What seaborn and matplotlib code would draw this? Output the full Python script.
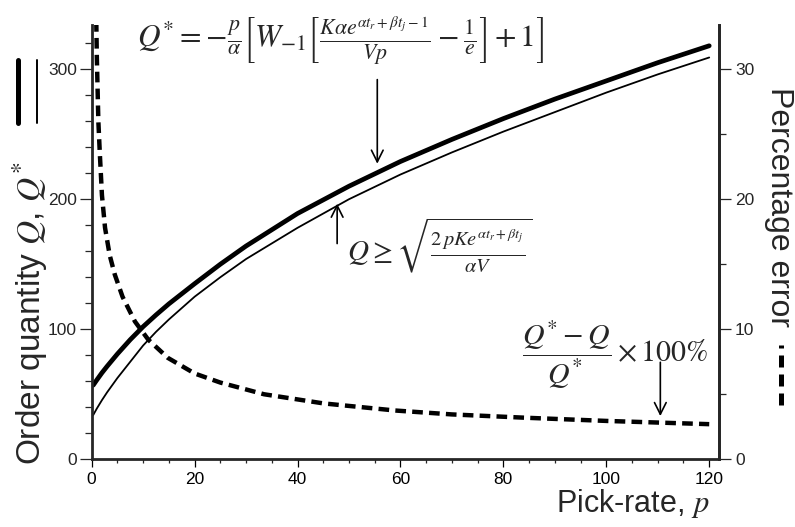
import matplotlib
matplotlib.use("Agg")
import matplotlib.pyplot as plt
import seaborn as sns
from matplotlib.lines import Line2D
from matplotlib.ticker import MultipleLocator

# values
P_CURVE = [0.3, 1, 2, 3, 5, 7.5, 10, 12.5, 15, 20, 25, 30, 40, 50, 60, 70, 80, 90, 100, 110, 120]
Q_STAR = [57, 61, 66.5, 71.5, 81, 92, 102, 111, 119.5, 135, 150, 164, 189, 210, 229, 246, 262, 277, 291, 305, 318]
Q_SQRT = [34, 39, 45.5, 51.5, 62.5, 75, 87.5, 98, 107.5, 125, 140, 154, 178, 200, 219, 236, 252, 267, 282, 296, 309]

P_ERR = [0.85, 1.0, 1.3, 1.6, 2.0, 2.6, 3.5, 4.5, 6, 8.4, 11, 14.8, 20, 25, 33.5, 45, 59, 70, 84, 100, 116, 120]
ERR_PCT = [35, 31, 26, 23.4, 20.3, 17.8, 15.7, 14.2, 12.5, 10.6, 9.2, 7.8, 6.6, 5.9, 5.0, 4.3, 3.75, 3.45, 3.2, 2.95, 2.75, 2.7]

X_TICKS = [0, 20, 40, 60, 80, 100, 120]
Y_TICKS = [0, 100, 200, 300]
Y2_TICKS = [0, 10, 20, 30]

sns.set_theme(style="ticks")
plt.rcParams["font.family"] = ["Liberation Sans", "DejaVu Sans"]
plt.rcParams["mathtext.fontset"] = "stix"

fig, ax = plt.subplots(figsize=(7.95, 5.27), dpi=100)
fig.subplots_adjust(left=0.1153, right=0.9044, bottom=0.1285, top=0.9526)
ax2 = ax.twinx()

sns.lineplot(x=P_CURVE, y=Q_STAR, ax=ax, color="black", linewidth=3.4)
sns.lineplot(x=P_CURVE, y=Q_SQRT, ax=ax, color="black", linewidth=1.3)
sns.lineplot(x=P_ERR, y=ERR_PCT, ax=ax2, color="black", linewidth=3.2)
ax2.lines[-1].set_dashes([2.4, 1.4])
ax2.lines[-1].set_dash_capstyle("butt")

ax.set_xlim(0, 121.9)
ax.set_ylim(0, 334)
ax2.set_ylim(0, 33.4)
ax.set_xticks(X_TICKS)
ax.set_yticks(Y_TICKS)
ax2.set_yticks(Y2_TICKS)
ax.xaxis.set_minor_locator(MultipleLocator(5))
ax.yaxis.set_minor_locator(MultipleLocator(20))
ax2.yaxis.set_minor_locator(MultipleLocator(5))
ax.set_xlabel("")
ax.set_ylabel("")
ax2.set_ylabel("")

for a in (ax, ax2):
    a.spines["top"].set_visible(False)
    for s in a.spines.values():
        s.set_linewidth(2.0)
ax2.spines["left"].set_visible(False)
ax2.spines["bottom"].set_visible(False)

ax.tick_params(axis="x", which="major", direction="out", length=5.5, width=0.9,
               labelsize=12.5, pad=4, colors="black")
ax.tick_params(axis="x", which="minor", direction="out", length=3, width=0.9)
ax.tick_params(axis="y", which="major", direction="out", length=8.5, width=0.9,
               labelsize=12.5, pad=2)
ax.tick_params(axis="y", which="minor", direction="out", length=5, width=0.9)
ax2.tick_params(axis="y", which="major", direction="out", length=8.5, width=0.9,
                labelsize=12.5, pad=3)
ax2.tick_params(axis="y", which="minor", direction="out", length=5, width=0.9)

# formulas and arrows
f1 = (r"$Q^{*}=-\frac{p}{\alpha}\left[W_{-1}\left[\frac{K\alpha e^{\alpha t_r+\beta t_j-1}}{Vp}"
      r"-\frac{1}{e}\right]+1\right]$")
f2 = r"$Q\geq\sqrt{\frac{2\,pKe^{\alpha t_r+\beta t_j}}{\alpha V}}$"
f3 = r"$\dfrac{Q^{*}-Q}{Q^{*}}\times100\%$"
ax.text(48.3, 321.7, f1, fontsize=22.5, ha="center", va="center")
ax.text(67.7, 164.4, f2, fontsize=21, ha="center", va="center")
ax.text(101.7, 80.2, f3, fontsize=21.5, ha="center", va="center")

arrow = dict(arrowstyle="->,head_length=0.7,head_width=0.35", color="black", lw=1.2,
             shrinkA=0, shrinkB=0)
ax.annotate("", xy=(55.5, 227.3), xytext=(55.5, 292), arrowprops=arrow)
ax.annotate("", xy=(47.7, 196.6), xytext=(47.7, 165.9), arrowprops=arrow)
ax.annotate("", xy=(110.5, 33.2), xytext=(110.5, 74.6), arrowprops=arrow)

# axis titles with their line keys
W, H = 795, 527
fig.text(30 / W, 1 - 465 / H, r"Order quantity $Q$, $Q^{*}$", rotation=90,
         fontsize=24, ha="center", va="bottom")
fig.add_artist(Line2D([18 / W, 18 / W], [1 - 123 / H, 1 - 60 / H], color="black", lw=3.6))
fig.add_artist(Line2D([37 / W, 37 / W], [1 - 123 / H, 1 - 60 / H], color="black", lw=1.4))

fig.text(779 / W, 1 - 87 / H, "Percentage error", rotation=270,
         fontsize=23, ha="center", va="top")
key = Line2D([781 / W, 781 / W], [1 - 405 / H, 1 - 345 / H], color="black", lw=3.6)
key.set_dashes([2.4, 1.4])
fig.add_artist(key)

fig.text(710 / W, 1 - 503 / H, r"Pick-rate, $p$", fontsize=22, ha="right", va="center")

fig.savefig("out.png", dpi=100)
